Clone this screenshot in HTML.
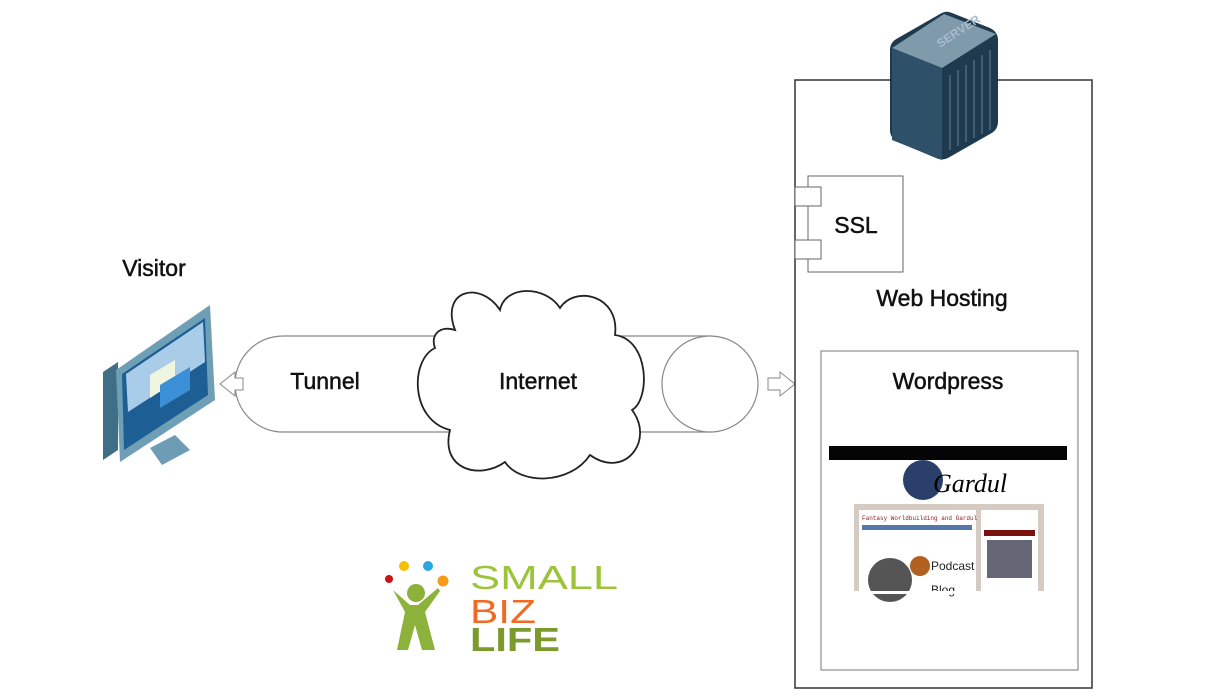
<!DOCTYPE html>
<html><head><meta charset="utf-8"><style>
body{margin:0;width:1230px;height:691px;background:#fff;overflow:hidden;font-family:"Liberation Sans",sans-serif}
</style></head><body>
<svg width="1230" height="691" viewBox="0 0 1230 691" xmlns="http://www.w3.org/2000/svg" font-family="Liberation Sans, sans-serif">
<!-- tunnel -->
<path d="M283 336 H710 M283 432 H710 M283 336 A48 48 0 0 0 283 432" fill="none" stroke="#888" stroke-width="1.2"/>
<circle cx="710" cy="384" r="48" fill="#fff" stroke="#888" stroke-width="1.2"/>
<!-- arrows -->
<path d="M235 372 L220 384 L235 396 V390 H243 V378 H235 Z" fill="#fff" stroke="#888"/>
<path d="M768 378 H780 V372 L795 384 L780 396 V390 H768 Z" fill="#fff" stroke="#888"/>
<!-- cloud -->
<path d="M455 330 C440 290,480 280,500 310 C505 285,545 285,560 308 C575 285,620 295,615 335 C650 340,650 400,632 410 C655 440,625 480,590 455 C570 485,520 485,505 462 C480 480,440 470,450 430 C410 420,410 360,435 348 C430 335,440 325,455 330 Z" fill="#fff" stroke="#222" stroke-width="1.8"/>
<!-- monitor -->
<g>
<polygon points="103,372 118,362 118,450 103,460" fill="#3e6f86"/>
<polygon points="116,370 210,305 215,400 120,462" fill="#6e9fb5"/>
<polygon points="122,374 205,318 208,395 124,450" fill="#1d5e95"/>
<polygon points="126,374 203,322 205,362 128,412" fill="#a9cde8"/>
<polygon points="150,375 175,360 175,382 150,398" fill="#eef6e0"/>
<polygon points="160,385 190,367 190,390 160,408" fill="#3a8fd6"/>
<polygon points="150,448 175,435 190,450 162,465" fill="#6d9cb5"/>
</g>
<!-- hosting box -->
<rect x="795" y="80" width="297" height="608" fill="#fff" stroke="#333" stroke-width="1.5"/>
<!-- server -->
<g>
<path d="M890 50 Q890 42 898 38 L940 14 Q946 10 952 13 L990 28 Q998 32 998 40 L998 122 Q998 130 990 134 L948 158 Q942 161 936 158 L898 142 Q890 138 890 130 Z" fill="#1f3a4e"/>
<path d="M892 48 L944 14 L996 34 L942 68 Z" fill="#7f9aab"/>
<path d="M892 48 L942 68 L942 160 L892 140 Z" fill="#2e5068"/>
<g stroke="#55788f" stroke-width="1.2">
<line x1="950" y1="75" x2="950" y2="150"/><line x1="958" y1="70" x2="958" y2="146"/><line x1="966" y1="65" x2="966" y2="142"/><line x1="974" y1="60" x2="974" y2="138"/><line x1="982" y1="55" x2="982" y2="134"/><line x1="990" y1="50" x2="990" y2="130"/>
</g>
<text x="940" y="48" font-size="12" fill="#a9bccb" transform="rotate(-33 940 48)" font-weight="bold">SERVER</text>
</g>
<!-- SSL -->
<rect x="808" y="176" width="95" height="96" fill="#fff" stroke="#666"/>
<rect x="795" y="187" width="26" height="19" fill="#fff" stroke="#666"/>
<rect x="795" y="240" width="26" height="19" fill="#fff" stroke="#666"/>
<!-- wordpress -->
<rect x="821" y="351" width="257" height="319" fill="#fff" stroke="#777"/>
<rect x="829" y="446" width="238" height="14" fill="#050505"/>
<circle cx="923" cy="480" r="20" fill="#2a3f6a"/>
<text x="933" y="492" font-size="26" font-family="Liberation Serif" font-style="italic">Gardul</text>
<rect x="854" y="504" width="190" height="88" fill="#d6cbc3"/>
<rect x="859" y="510" width="117" height="82" fill="#fff"/>
<rect x="981" y="510" width="57" height="82" fill="#fff"/>
<text x="862" y="520" font-size="6" fill="#8b1a1a" font-family="Liberation Mono">Fantasy Worldbuilding and Gardul</text>
<rect x="862" y="525" width="110" height="5" fill="#5577aa"/>
<rect x="984" y="530" width="51" height="6" fill="#7a1010"/>
<rect x="987" y="540" width="45" height="38" fill="#667"/>
<circle cx="890" cy="580" r="22" fill="#555"/>
<circle cx="920" cy="566" r="10" fill="#b06020"/>
<text x="931" y="570" font-size="12" fill="#222">Podcast</text>
<text x="931" y="594" font-size="12" fill="#222">Blog</text>
<rect x="829" y="591" width="238" height="3" fill="#fff"/>
<!-- labels -->
<g font-size="23" fill="#111" stroke="#111" stroke-width="0.5" text-anchor="middle">
<text x="325" y="389">Tunnel</text>
<text x="538" y="389">Internet</text>
<text x="154" y="276">Visitor</text>
<text x="856" y="233">SSL</text>
<text x="942" y="306">Web Hosting</text>
<text x="948" y="389">Wordpress</text>
</g>
<!-- logo -->
<circle cx="389" cy="579" r="4" fill="#cc1111"/>
<circle cx="404" cy="566" r="5" fill="#f6c000"/>
<circle cx="428" cy="566" r="5" fill="#29a8df"/>
<circle cx="443" cy="581" r="5.5" fill="#f49b1a"/>
<circle cx="416" cy="593" r="9" fill="#8cb23c"/>
<path d="M393 590 L410 605 L418 605 L438 588 L440 591 L425 612 L435 650 L422 650 L415 625 L408 650 L397 650 L405 612 Z" fill="#8cb23c"/>
<text x="470" y="589" font-size="33" fill="#9cc43a" textLength="148" lengthAdjust="spacingAndGlyphs">SMALL</text>
<text x="470" y="623" font-size="33" fill="#f26a21" textLength="66" lengthAdjust="spacingAndGlyphs">BIZ</text>
<text x="470" y="651" font-size="33" font-weight="bold" fill="#7a9a2c" textLength="90" lengthAdjust="spacingAndGlyphs">LIFE</text>
</svg>
</body></html>
